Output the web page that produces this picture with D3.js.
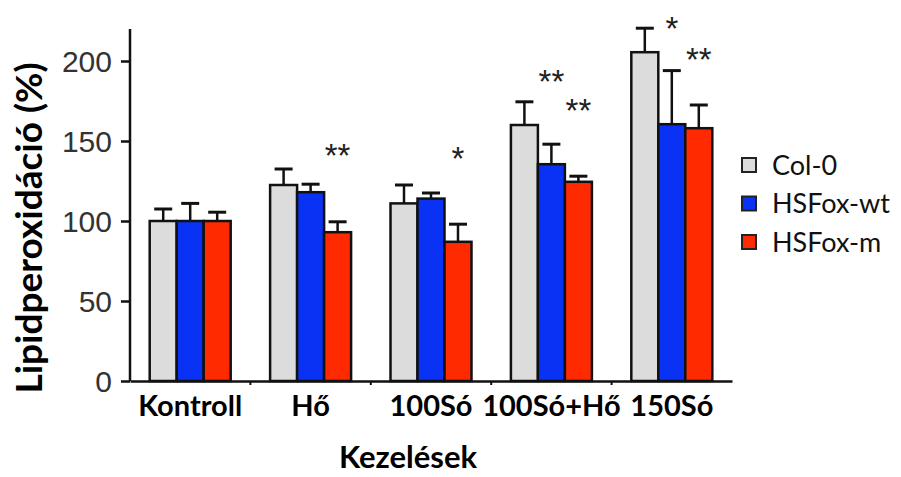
<!DOCTYPE html>
<html>
<head>
<meta charset="utf-8">
<script src="https://cdn.jsdelivr.net/npm/d3@7"></script>
<style>
  body { margin: 0; background: #fff; }
  text { font-family: Lato, "Open Sans", sans-serif; }
</style>
</head>
<body>
<svg id="chart" width="901" height="477"></svg>
<script>
// data
var groups = ["Kontroll", "Hő", "100Só", "100Só+Hő", "150Só"];
var series = ["Col-0", "HSFox-wt", "HSFox-m"];
var colors = ["#dcdcdc", "#0a32f5", "#ff2a00"];

// mean values per series, one per group
var col0   = [100, 122.5, 111, 160, 205.5];
var hsfWt  = [100, 118, 114, 135.5, 160.5];
var hsfM   = [100, 93, 87, 124.5, 158];
// top of error bars
var col0Err  = [107.5, 132.5, 122.5, 174.5, 220.5];
var hsfWtErr = [111, 123, 117.5, 148, 194];
var hsfMErr  = [105.5, 99.5, 98, 128, 172.5];

var yTicks = [0, 50, 100, 150, 200];

// significance marks: group, series, level, text
var stars = [
  {g: "Hő", s: "HSFox-m", v: 146, t: "**"},
  {g: "100Só", s: "HSFox-m", v: 144, t: "*"},
  {g: "100Só+Hő", s: "HSFox-wt", v: 192, t: "**"},
  {g: "100Só+Hő", s: "HSFox-m", v: 174, t: "**"},
  {g: "150Só", s: "HSFox-wt", v: 225, t: "*"},
  {g: "150Só", s: "HSFox-m", v: 206, t: "**"}
];

var means = [col0, hsfWt, hsfM];
var errs = [col0Err, hsfWtErr, hsfMErr];

var svg = d3.select("#chart");
var margin = {left: 130, right: 169, top: 29, bottom: 96};
var width = 901 - margin.left - margin.right,
    height = 477 - margin.top - margin.bottom;

var x0 = d3.scaleBand().domain(groups).range([0, width]).padding(0);
var x1 = d3.scaleBand().domain(series).range([0, x0.bandwidth()]).paddingInner(0).paddingOuter(0.73);
var y = d3.scaleLinear().domain([0, 220]).range([height, 0]);

var g = svg.append("g")
    .attr("transform", "translate(" + margin.left + "," + margin.top + ")");

var rows = [];
groups.forEach(function(gr, i) {
  series.forEach(function(s, j) {
    rows.push({g: gr, s: s, v: means[j][i], e: errs[j][i], c: colors[j]});
  });
});

function cx(d) { return x0(d.g) + x1(d.s) + x1.bandwidth() / 2; }

// error bars first so bar outline sits on top
var eb = g.selectAll(".err").data(rows).enter().append("g").attr("class", "err");
eb.append("line")
    .attr("x1", cx).attr("x2", cx)
    .attr("y1", function(d) { return y(d.v); })
    .attr("y2", function(d) { return y(d.e); })
    .attr("stroke", "#111").attr("stroke-width", 2.5);
eb.append("line")
    .attr("x1", function(d) { return cx(d) - 9; })
    .attr("x2", function(d) { return cx(d) + 9; })
    .attr("y1", function(d) { return y(d.e); })
    .attr("y2", function(d) { return y(d.e); })
    .attr("stroke", "#111").attr("stroke-width", 3);

g.selectAll(".bar").data(rows).enter().append("rect")
    .attr("class", "bar")
    .attr("x", function(d) { return x0(d.g) + x1(d.s); })
    .attr("y", function(d) { return y(d.v); })
    .attr("width", x1.bandwidth())
    .attr("height", function(d) { return y(0) - y(d.v); })
    .attr("fill", function(d) { return d.c; })
    .attr("stroke", "#111")
    .attr("stroke-width", 2.5);

// axes
var yAxis = g.append("g")
    .call(d3.axisLeft(y).tickValues(yTicks).tickSize(9).tickPadding(9));
yAxis.select(".domain").attr("stroke", "#111").attr("stroke-width", 2.5)
    .attr("d", "M0," + y(0) + "V0");
yAxis.selectAll(".tick line").attr("stroke", "#111").attr("stroke-width", 2.5);
yAxis.selectAll(".tick text")
    .attr("fill", "#333")
    .style("font-family", "'Liberation Sans Narrow', 'Arial Narrow', sans-serif")
    .style("font-size", "30px")
    .attr("dy", "0.36em");

var xAxis = g.append("g")
    .attr("transform", "translate(0," + height + ")")
    .call(d3.axisBottom(x0).tickSize(0).tickPadding(14));
xAxis.select(".domain").attr("stroke", "#111").attr("stroke-width", 2.5);
xAxis.selectAll(".tick text")
    .attr("fill", "#000")
    .style("font-weight", "bold")
    .style("font-size", "29px");

// small boundary ticks on x axis
g.selectAll(".bt").data(groups.slice(1)).enter().append("line")
    .attr("x1", function(d) { return x0(d); })
    .attr("x2", function(d) { return x0(d); })
    .attr("y1", height).attr("y2", height + 4)
    .attr("stroke", "#111").attr("stroke-width", 2);

// stars
g.selectAll(".star").data(stars).enter().append("text")
    .attr("x", cx)
    .attr("y", function(d) { return y(d.v); })
    .attr("text-anchor", "middle")
    .attr("dy", "0.58em")
    .style("font-family", "'Liberation Sans', Arial, sans-serif")
    .style("font-size", "33px")
    .attr("fill", "#222")
    .text(function(d) { return d.t; });

// axis titles
svg.append("text")
    .attr("transform", "translate(42," + 228 + ") rotate(-90)")
    .attr("text-anchor", "middle")
    .style("font-weight", "bold")
    .style("font-size", "37px")
    .text("Lipidperoxidáció (%)");

svg.append("text")
    .attr("x", 408).attr("y", 468)
    .attr("text-anchor", "middle")
    .style("font-weight", "bold")
    .style("font-size", "31px")
    .text("Kezelések");

// legend
var legend = svg.append("g").attr("transform", "translate(742,165)");
var li = legend.selectAll(".li").data(series).enter().append("g")
    .attr("transform", function(d, i) { return "translate(0," + i * 38.5 + ")"; });
li.append("rect")
    .attr("x", 0).attr("y", -7).attr("width", 14).attr("height", 14)
    .attr("fill", function(d, i) { return colors[i]; })
    .attr("stroke", "#222").attr("stroke-width", 2);
li.append("text")
    .attr("x", 30).attr("dy", "0.36em")
    .style("font-size", "27px")
    .attr("fill", "#111")
    .text(function(d) { return d; });
</script>
</body>
</html>
